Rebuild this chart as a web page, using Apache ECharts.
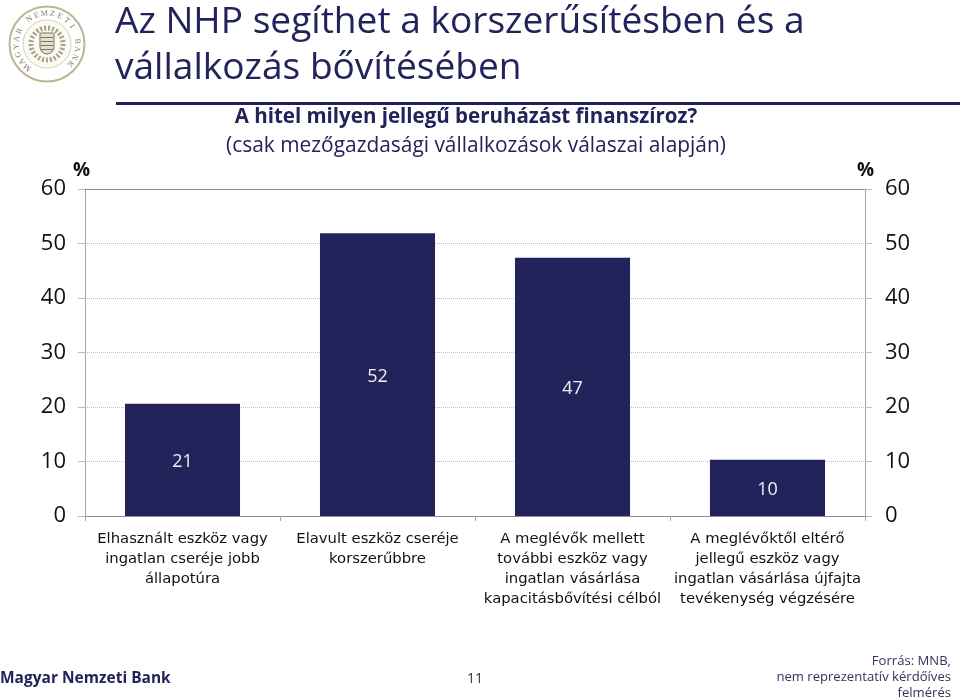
<!DOCTYPE html>
<html><head><meta charset="utf-8">
<style>html,body{margin:0;padding:0;background:#fff}#c{width:960px;height:699px}</style>
<script src="https://cdn.jsdelivr.net/npm/echarts@6/dist/echarts.min.js"></script>
</head><body><div id="c"></div>
<script>
const categories = [
  "Elhasznált eszköz vagy\ningatlan cseréje jobb\nállapotúra",
  "Elavult eszköz cseréje\nkorszerűbbre",
  "A meglévők mellett\ntovábbi eszköz vagy\ningatlan vásárlása\nkapacitásbővítési célból",
  "A meglévőktől eltérő\njellegű eszköz vagy\ningatlan vásárlása újfajta\ntevékenység végzésére"
];
const values = [20.6, 51.9, 47.4, 10.3];
const valueLabels = ["21", "52", "47", "10"];
const titleLines = ["Az NHP segíthet a korszerűsítésben és a", "vállalkozás bővítésében"];
const subtitle = "A hitel milyen jellegű beruházást finanszíroz?";
const subtitle2 = "(csak mezőgazdasági vállalkozások válaszai alapján)";
const source = "Forrás: MNB,\nnem reprezentatív kérdőíves\nfelmérés";
const sealText = "MAGYAR NEMZETI BANK";

const navy = "#23235b", sans = "'Open Sans','Noto Sans',sans-serif";
const chart = echarts.init(document.getElementById("c"), null, {renderer:"canvas"});

function sealLetters(){
  const out = [], cx = 47, cy = 44, r = 30.5, n = sealText.length;
  for (let i = 0; i < n; i++){
    const t = (-140 + i * 270 / (n - 1)) * Math.PI / 180;
    out.push({type:"text", x: cx + r * Math.sin(t), y: cy - r * Math.cos(t),
      rotation: -t, originX:0, originY:0,
      style:{text: sealText[i], font:"8px 'Liberation Serif'", fill:"#7f7a60", align:"center", verticalAlign:"middle"}});
  }
  return out;
}
function text(x,y,t,font,fill,align){
  return {type:"text", x, y, style:{text:t, font, fill, align:align||"left", verticalAlign:"middle"}};
}
chart.setOption({
  animation:false,
  backgroundColor:"#fff",
  grid:{left:85, right:95, top:189, bottom:183, containLabel:false},
  xAxis:{type:"category", data:categories,
    axisLine:{lineStyle:{color:"#8c8c8c"}}, axisTick:{show:true,length:5,alignWithLabel:false,lineStyle:{color:"#a6a6a6"}},
    axisLabel:{interval:0, color:"#111", fontFamily:"'DejaVu Sans'", fontSize:14.8, lineHeight:20, margin:13, align:"center", verticalAlign:"top"}},
  yAxis:[
    {type:"value", min:0, max:60, interval:10, position:"left",
     axisLine:{show:true,lineStyle:{color:"#a6a6a6"}}, axisTick:{show:true,length:7,lineStyle:{color:"#bdbdbd"}},
     splitLine:{show:true,lineStyle:{type:"dotted",color:"#bdbdbd"}},
     axisLabel:{color:"#111",fontFamily:sans,fontSize:22,margin:19,padding:[2,0,0,0]}},
    {type:"value", min:0, max:60, interval:10, position:"right",
     axisLine:{show:true,lineStyle:{color:"#a6a6a6"}}, axisTick:{show:true,length:7,lineStyle:{color:"#bdbdbd"}},
     splitLine:{show:false},
     axisLabel:{color:"#111",fontFamily:sans,fontSize:22,margin:20,padding:[2,0,0,0]}}
  ],
  series:[{type:"bar", data:values, barWidth:"59%", itemStyle:{color:navy},
    label:{show:true, position:"inside", offset:[0,2], color:"#eeeef4", fontFamily:sans, fontSize:18,
      formatter:p=>valueLabels[p.dataIndex]},
    markLine:{silent:true, symbol:"none", label:{show:false}, animation:false,
      lineStyle:{color:"#8c8c8c",type:"solid",width:1}, data:[{yAxis:60}]}}],
  graphic:[
    {type:"circle",shape:{cx:47,cy:44,r:37.5},style:{fill:"#fff",stroke:"#bdb592",lineWidth:2}},
    {type:"circle",shape:{cx:47,cy:44,r:24},style:{fill:"#fbfaf5",stroke:"#d5d0b8",lineWidth:1}},
    {type:"circle",shape:{cx:47,cy:44,r:16},style:{fill:"none",stroke:"#a8a284",lineWidth:5,lineDash:[2,2]}},
    {type:"rect",shape:{x:40,y:33,width:14,height:21,r:[1,1,7,7]},style:{fill:"#e4e1cf",stroke:"#77735c",lineWidth:1}},
    {type:"rect",shape:{x:41,y:37,width:12,height:1},style:{fill:"#77735c"}},
    {type:"rect",shape:{x:41,y:41,width:12,height:1},style:{fill:"#77735c"}},
    {type:"rect",shape:{x:41,y:45,width:12,height:1},style:{fill:"#77735c"}},
    {type:"rect",shape:{x:41,y:49,width:12,height:1},style:{fill:"#77735c"}},
    ...sealLetters(),
    text(115,22,titleLines[0],"37.1px "+sans,navy),
    text(115,68,titleLines[1],"37.1px "+sans,navy),
    {type:"rect",shape:{x:116,y:102,width:844,height:3},style:{fill:navy}},
    text(466,117,subtitle,"bold 20.5px "+sans,navy,"center"),
    text(476,146,subtitle2,"20.9px "+sans,navy,"center"),
    text(73,171,"%","bold 19px "+sans,"#111"),
    text(857,171,"%","bold 19px "+sans,"#111"),
    text(0,679,"Magyar Nemzeti Bank","bold 15.5px "+sans,navy),
    text(475,679,"11","14px "+sans,"#333","center"),
    {type:"text",x:951,y:653,style:{text:source,font:"13.1px "+sans,fill:"#33335f",align:"right",verticalAlign:"top",lineHeight:16}}
  ]
});
</script></body></html>
